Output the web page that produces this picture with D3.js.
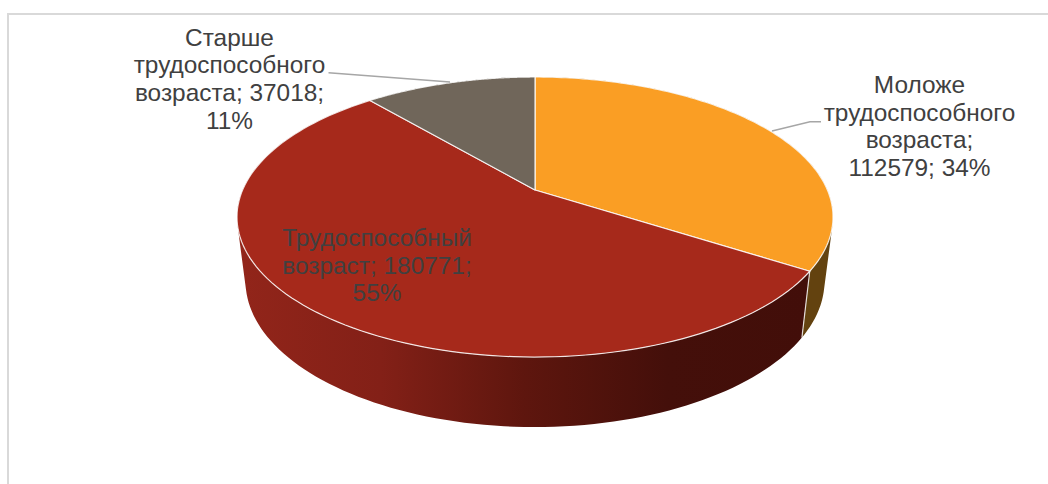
<!DOCTYPE html>
<html>
<head>
<meta charset="utf-8">
<script src="https://cdn.jsdelivr.net/npm/d3@7"></script>
<style>
  html, body { margin: 0; padding: 0; background: #fff; }
  text { font-family: "Liberation Sans", Arial, sans-serif; }
</style>
</head>
<body>
<div class="chart"></div>
<script>
const categories = ["Моложе трудоспособного возраста", "Трудоспособный возраст", "Старше трудоспособного возраста"];
const values = [112579, 180771, 37018];
const percents = ["34%", "55%", "11%"];
const labelLines = [
  ["Моложе", "трудоспособного", "возраста;", "112579; 34%"],
  ["Трудоспособный", "возраст; 180771;", "55%"],
  ["Старше", "трудоспособного", "возраста; 37018;", "11%"]
];
const topColors = ["#fa9e24", "#a6291b", "#70665a"];

const width = 1048, height = 484;
const cx = 535, apexY = 190;

const svg = d3.select(".chart").append("svg")
  .attr("width", width)
  .attr("height", height)
  .style("display", "block");

// chart frame
svg.append("rect")
  .attr("x", 8).attr("y", 14)
  .attr("width", 1100).attr("height", 600)
  .attr("fill", "#fff")
  .attr("stroke", "#d9d9d9")
  .attr("stroke-width", 2);

const pie = d3.pie().sort(null).value(d => d);
const arcs = pie(values);

// perspective for the tilted disc
const k = 0.193, s = 292.4, b = 134.8;
function project(a) {
  const x = Math.sin(a), y = -Math.cos(a);
  const w = 1 - k * y;
  return [cx + s * x / w, apexY + b * y / w];
}
// bottom rim is a slightly smaller ellipse lower down
function lower(p) {
  return [cx + (p[0] - cx) * 289.5 / 298, 281 + (p[1] - 217) * 146 / 140];
}
function rim(a0, a1) {
  return d3.range(0, 121).map(i => project(a0 + (a1 - a0) * i / 120));
}
const line = d3.line();

const defs = svg.append("defs");
const sideRed = defs.append("linearGradient")
  .attr("id", "side-1")
  .attr("gradientUnits", "userSpaceOnUse")
  .attr("x1", 238).attr("x2", 810).attr("y1", 0).attr("y2", 0);
[[0, "#92251a"], [0.25, "#832017"], [0.5, "#5e160e"], [0.75, "#440f0a"], [1, "#420e09"]]
  .forEach(d => sideRed.append("stop").attr("offset", d[0]).attr("stop-color", d[1]));

// walls, back to front: all rim quads go in one path so no seams show
[2, 0, 1].forEach(i => {
  const d = arcs[i];
  const edge = rim(d.startAngle, d.endAngle);
  const quads = d3.pairs(edge).map(e => {
    const q = [e[0], e[1], lower(e[1]), lower(e[0])];
    return line(d3.polygonArea(q) < 0 ? q.reverse() : q) + "Z";
  });
  svg.append("path")
    .attr("d", quads.join(""))
    .attr("fill", i === 1 ? "url(#side-1)" : i === 0 ? "#63420f" : "#3a342d");
});

// divider between the two front walls
const corner = project(arcs[0].endAngle);
svg.append("line")
  .attr("x1", corner[0]).attr("y1", corner[1])
  .attr("x2", lower(corner)[0]).attr("y2", lower(corner)[1])
  .attr("stroke", "#fff").attr("stroke-opacity", 0.8).attr("stroke-width", 1.2);

// top faces
svg.selectAll(".slice")
  .data(arcs)
  .enter()
  .append("path")
  .attr("class", "slice")
  .attr("d", d => line([[cx, apexY]].concat(rim(d.startAngle, d.endAngle))) + "Z")
  .attr("fill", (d, i) => topColors[i])
  .attr("stroke", "#fff")
  .attr("stroke-opacity", 0.85)
  .attr("stroke-width", 1.2)
  .attr("stroke-linejoin", "round");

// leader lines
const leaders = [
  [[821, 121.7], [810, 121.7], [772, 131]],
  null,
  [[328.5, 72.7], [450, 82]]
];
leaders.forEach(l => {
  if (!l) return;
  svg.append("path")
    .attr("d", line(l))
    .attr("fill", "none")
    .attr("stroke", "#a6a6a6")
    .attr("stroke-width", 1.5);
});

// labels
const labelPos = [
  {x: 919.5, y: 93},
  {x: 377, y: 246},
  {x: 229.5, y: 45.5}
];
labelLines.forEach((lines, i) => {
  svg.append("text")
    .attr("text-anchor", "middle")
    .attr("font-size", "24.4px")
    .attr("fill", "#404040")
    .selectAll("tspan")
    .data(lines)
    .enter()
    .append("tspan")
    .attr("x", labelPos[i].x)
    .attr("y", (d, j) => labelPos[i].y + j * 27.7)
    .text(d => d);
});
</script>
</body>
</html>
